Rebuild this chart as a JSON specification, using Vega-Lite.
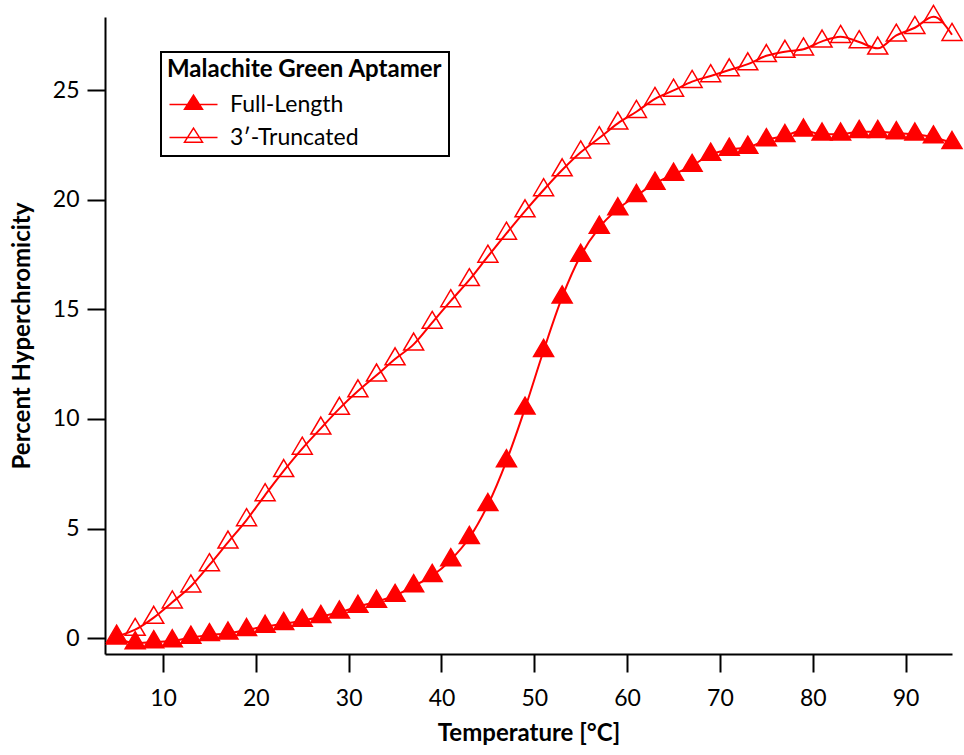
{
  "$schema": "https://vega.github.io/schema/vega-lite/v6.json",
  "width": 847,
  "height": 637,
  "autosize": {"type": "none"},
  "padding": {"left": 105, "top": 17, "right": 12, "bottom": 101},
  "config": {
    "font": "Lato",
    "view": {"stroke": null},
    "axis": {
      "grid": false,
      "domainColor": "black",
      "domainWidth": 2,
      "tickColor": "black",
      "tickWidth": 2,
      "tickSize": 18,
      "labelFont": "Lato",
      "labelFontSize": 23,
      "labelColor": "black",
      "titleFont": "Lato",
      "titleFontSize": 24,
      "titleFontWeight": "bold",
      "titleColor": "black"
    },
    "legend": {
      "orient": "none",
      "legendX": 56,
      "legendY": 35,
      "padding": 6,
      "strokeColor": "black",
      "strokeWidth": 2,
      "titleFont": "Lato",
      "titleFontSize": 24,
      "titleFontWeight": "bold",
      "titleColor": "black",
      "titleLimit": 500,
      "titlePadding": 11,
      "labelFont": "Lato",
      "labelFontSize": 23,
      "labelColor": "black",
      "labelLimit": 400,
      "rowPadding": 8,
      "symbolSize": 100,
      "symbolStrokeColor": "red",
      "symbolStrokeWidth": 1.5,
      "labelOffset": 40
    }
  },
  "data": {
    "values": [
      {"t": 5, "series": "Full-Length", "v": 0.0},
      {"t": 7, "series": "Full-Length", "v": -0.22},
      {"t": 9, "series": "Full-Length", "v": -0.17},
      {"t": 11, "series": "Full-Length", "v": -0.13},
      {"t": 13, "series": "Full-Length", "v": 0.03},
      {"t": 15, "series": "Full-Length", "v": 0.15},
      {"t": 17, "series": "Full-Length", "v": 0.22},
      {"t": 19, "series": "Full-Length", "v": 0.38},
      {"t": 21, "series": "Full-Length", "v": 0.53},
      {"t": 23, "series": "Full-Length", "v": 0.66},
      {"t": 25, "series": "Full-Length", "v": 0.8},
      {"t": 27, "series": "Full-Length", "v": 0.98},
      {"t": 29, "series": "Full-Length", "v": 1.18},
      {"t": 31, "series": "Full-Length", "v": 1.44},
      {"t": 33, "series": "Full-Length", "v": 1.67},
      {"t": 35, "series": "Full-Length", "v": 1.94},
      {"t": 37, "series": "Full-Length", "v": 2.38},
      {"t": 39, "series": "Full-Length", "v": 2.85},
      {"t": 41, "series": "Full-Length", "v": 3.57},
      {"t": 43, "series": "Full-Length", "v": 4.58},
      {"t": 45, "series": "Full-Length", "v": 6.08},
      {"t": 47, "series": "Full-Length", "v": 8.08},
      {"t": 49, "series": "Full-Length", "v": 10.48},
      {"t": 51, "series": "Full-Length", "v": 13.11},
      {"t": 53, "series": "Full-Length", "v": 15.55},
      {"t": 55, "series": "Full-Length", "v": 17.45},
      {"t": 57, "series": "Full-Length", "v": 18.73},
      {"t": 59, "series": "Full-Length", "v": 19.57},
      {"t": 61, "series": "Full-Length", "v": 20.18},
      {"t": 63, "series": "Full-Length", "v": 20.74},
      {"t": 65, "series": "Full-Length", "v": 21.15},
      {"t": 67, "series": "Full-Length", "v": 21.55},
      {"t": 69, "series": "Full-Length", "v": 22.06},
      {"t": 71, "series": "Full-Length", "v": 22.29},
      {"t": 73, "series": "Full-Length", "v": 22.38},
      {"t": 75, "series": "Full-Length", "v": 22.72},
      {"t": 77, "series": "Full-Length", "v": 22.91},
      {"t": 79, "series": "Full-Length", "v": 23.16},
      {"t": 81, "series": "Full-Length", "v": 22.98},
      {"t": 83, "series": "Full-Length", "v": 22.98},
      {"t": 85, "series": "Full-Length", "v": 23.1},
      {"t": 87, "series": "Full-Length", "v": 23.1},
      {"t": 89, "series": "Full-Length", "v": 23.04},
      {"t": 91, "series": "Full-Length", "v": 22.98},
      {"t": 93, "series": "Full-Length", "v": 22.85},
      {"t": 95, "series": "Full-Length", "v": 22.59},
      {"t": 5, "series": "3′-Truncated", "v": 0.08},
      {"t": 7, "series": "3′-Truncated", "v": 0.39},
      {"t": 9, "series": "3′-Truncated", "v": 0.94},
      {"t": 11, "series": "3′-Truncated", "v": 1.64},
      {"t": 13, "series": "3′-Truncated", "v": 2.37},
      {"t": 15, "series": "3′-Truncated", "v": 3.34},
      {"t": 17, "series": "3′-Truncated", "v": 4.37},
      {"t": 19, "series": "3′-Truncated", "v": 5.39},
      {"t": 21, "series": "3′-Truncated", "v": 6.53},
      {"t": 23, "series": "3′-Truncated", "v": 7.63},
      {"t": 25, "series": "3′-Truncated", "v": 8.65},
      {"t": 27, "series": "3′-Truncated", "v": 9.57},
      {"t": 29, "series": "3′-Truncated", "v": 10.47},
      {"t": 31, "series": "3′-Truncated", "v": 11.27},
      {"t": 33, "series": "3′-Truncated", "v": 11.99},
      {"t": 35, "series": "3′-Truncated", "v": 12.73},
      {"t": 37, "series": "3′-Truncated", "v": 13.4},
      {"t": 39, "series": "3′-Truncated", "v": 14.39},
      {"t": 41, "series": "3′-Truncated", "v": 15.38},
      {"t": 43, "series": "3′-Truncated", "v": 16.34},
      {"t": 45, "series": "3′-Truncated", "v": 17.41},
      {"t": 47, "series": "3′-Truncated", "v": 18.46},
      {"t": 49, "series": "3′-Truncated", "v": 19.48},
      {"t": 51, "series": "3′-Truncated", "v": 20.44},
      {"t": 53, "series": "3′-Truncated", "v": 21.35},
      {"t": 55, "series": "3′-Truncated", "v": 22.16},
      {"t": 57, "series": "3′-Truncated", "v": 22.81},
      {"t": 59, "series": "3′-Truncated", "v": 23.48},
      {"t": 61, "series": "3′-Truncated", "v": 24.01},
      {"t": 63, "series": "3′-Truncated", "v": 24.6},
      {"t": 65, "series": "3′-Truncated", "v": 24.98},
      {"t": 67, "series": "3′-Truncated", "v": 25.38},
      {"t": 69, "series": "3′-Truncated", "v": 25.64},
      {"t": 71, "series": "3′-Truncated", "v": 25.91},
      {"t": 73, "series": "3′-Truncated", "v": 26.18},
      {"t": 75, "series": "3′-Truncated", "v": 26.56},
      {"t": 77, "series": "3′-Truncated", "v": 26.75},
      {"t": 79, "series": "3′-Truncated", "v": 26.86},
      {"t": 81, "series": "3′-Truncated", "v": 27.22},
      {"t": 83, "series": "3′-Truncated", "v": 27.43},
      {"t": 85, "series": "3′-Truncated", "v": 27.19},
      {"t": 87, "series": "3′-Truncated", "v": 26.9},
      {"t": 89, "series": "3′-Truncated", "v": 27.49},
      {"t": 91, "series": "3′-Truncated", "v": 27.84},
      {"t": 93, "series": "3′-Truncated", "v": 28.34},
      {"t": 95, "series": "3′-Truncated", "v": 27.52}
    ]
  },
  "encoding": {
    "x": {
      "field": "t",
      "type": "quantitative",
      "title": "Temperature [°C]",
      "scale": {"domain": [3.75, 95], "nice": false, "zero": false},
      "axis": {"values": [10, 20, 30, 40, 50, 60, 70, 80, 90], "labelPadding": 15, "titlePadding": 11}
    },
    "y": {
      "field": "v",
      "type": "quantitative",
      "title": "Percent Hyperchromicity",
      "scale": {"domain": [-0.72, 28.33], "nice": false, "zero": false},
      "axis": {"values": [0, 5, 10, 15, 20, 25], "labelPadding": 8, "titlePadding": 18}
    }
  },
  "layer": [
    {
      "mark": {"type": "line", "strokeWidth": 2, "interpolate": "monotone", "color": "red", "clip": false},
      "encoding": {"detail": {"field": "series"}}
    },
    {
      "mark": {"type": "point", "shape": "M0,-1.13L1,0.57L-1,0.57Z", "size": 400, "stroke": "red", "strokeWidth": 1.5, "opacity": 1, "filled": false, "clip": false},
      "encoding": {
        "fill": {
          "field": "series",
          "type": "nominal",
          "scale": {"domain": ["Full-Length", "3′-Truncated"], "range": ["red", "transparent"]}
        }
      }
    },
    {
      "mark": {"type": "point", "size": 100, "stroke": "red", "opacity": 0, "filled": false},
      "encoding": {
        "fill": {
          "field": "series",
          "type": "nominal",
          "title": "Malachite Green Aptamer",
          "legend": {"symbolOpacity": 1}
        },
        "shape": {
          "field": "series",
          "type": "nominal",
          "title": "Malachite Green Aptamer",
          "scale": {"domain": ["Full-Length", "3′-Truncated"], "range": ["M-1.8,0H7.8M3,-1.87L4.8,0.93H1.2Z", "M-1.8,0H7.8M3,-1.87L4.8,0.93H1.2Z"]}
        }
      }
    }
  ]
}
